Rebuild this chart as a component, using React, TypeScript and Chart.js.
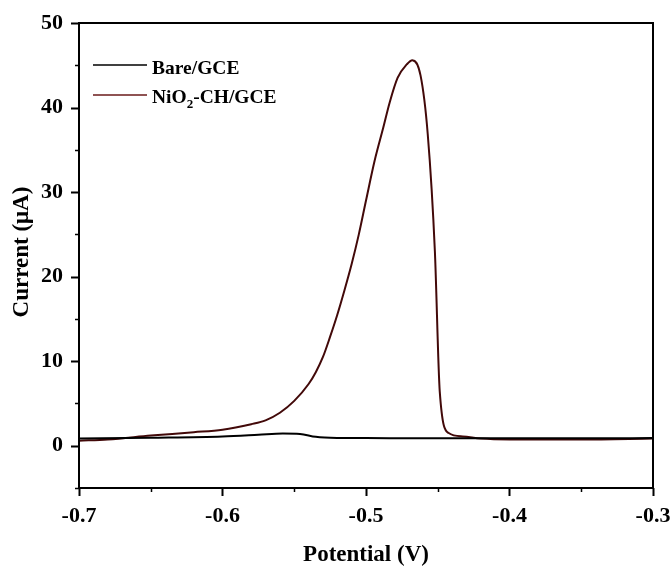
import React, { useEffect, useRef } from "react";
import { Chart, registerables } from "chart.js";

Chart.register(...registerables);

// ---- data ----
const barePotential = [-0.7, -0.65, -0.6, -0.575, -0.558, -0.546, -0.535, -0.52, -0.5, -0.45, -0.4, -0.35, -0.3];
const bareCurrent = [0.85, 0.95, 1.1, 1.3, 1.45, 1.4, 1.05, 0.92, 0.9, 0.88, 0.88, 0.88, 0.9];

const niPotential = [
  -0.7, -0.68, -0.65, -0.62, -0.6, -0.58, -0.57, -0.56, -0.55, -0.54, -0.535, -0.53, -0.525, -0.52,
  -0.515, -0.51, -0.505, -0.5, -0.494, -0.488, -0.4835, -0.478, -0.4716, -0.4677, -0.462, -0.457,
  -0.452, -0.4486, -0.4424, -0.4326, -0.42, -0.4, -0.35, -0.3,
];
const niCurrent = [
  0.6, 0.75, 1.2, 1.6, 1.9, 2.55, 3.0, 3.9, 5.3, 7.3, 8.7, 10.5, 12.9, 15.5,
  18.4, 21.5, 25.0, 29.0, 33.7, 37.6, 40.6, 43.5, 45.1, 45.6, 43.8, 36.9,
  23.0, 6.4, 1.5, 1.1, 0.85, 0.75, 0.75, 0.85,
];

const seriesNames = ["Bare/GCE", "NiO2-CH/GCE"];
const xTicks = [-0.7, -0.6, -0.5, -0.4, -0.3];
const xMinorTicks = [-0.65, -0.55, -0.45, -0.35];
const yTicks = [0, 10, 20, 30, 40, 50];
const yMinorTicks = [-5, 5, 15, 25, 35, 45];
const xTitle = "Potential (V)";
const yTitle = "Current (\u03bcA)";

const FONT = "'Liberation Serif', 'Times New Roman', serif";
const BARE_COLOR = "#000000";
const NI_COLOR = "#420909";

const decorPlugin = {
  id: "decor",
  afterDraw(chart: any) {
    const { ctx, chartArea: a, scales } = chart;
    const xs = scales.x;
    const ys = scales.y;
    ctx.save();
    ctx.strokeStyle = "#000";
    ctx.lineWidth = 2;
    ctx.strokeRect(a.left, a.top, a.right - a.left, a.bottom - a.top);

    // ticks
    ctx.lineWidth = 2;
    ctx.beginPath();
    for (const v of yTicks) {
      const y = Math.round(ys.getPixelForValue(v)) + 0.5;
      ctx.moveTo(a.left - 8, y);
      ctx.lineTo(a.left, y);
    }
    for (const v of xTicks) {
      const x = Math.round(xs.getPixelForValue(v)) + 0.5;
      ctx.moveTo(x, a.bottom);
      ctx.lineTo(x, a.bottom + 8);
    }
    ctx.stroke();
    ctx.lineWidth = 1.5;
    ctx.beginPath();
    for (const v of yMinorTicks) {
      const y = Math.round(ys.getPixelForValue(v)) + 0.5;
      ctx.moveTo(a.left - 4, y);
      ctx.lineTo(a.left, y);
    }
    for (const v of xMinorTicks) {
      const x = Math.round(xs.getPixelForValue(v)) + 0.5;
      ctx.moveTo(x, a.bottom);
      ctx.lineTo(x, a.bottom + 4);
    }
    ctx.stroke();

    // axis titles
    ctx.fillStyle = "#000";
    ctx.font = `bold 23px ${FONT}`;
    ctx.textAlign = "center";
    ctx.textBaseline = "middle";
    ctx.fillText(xTitle, (a.left + a.right) / 2, 555);
    ctx.save();
    ctx.translate(22, 252);
    ctx.rotate(-Math.PI / 2);
    ctx.fillText(yTitle, 0, 0);
    ctx.restore();

    // legend
    ctx.textAlign = "left";
    ctx.textBaseline = "alphabetic";
    ctx.lineWidth = 1.5;
    ctx.strokeStyle = BARE_COLOR;
    ctx.beginPath();
    ctx.moveTo(93, 65);
    ctx.lineTo(147, 65);
    ctx.stroke();
    ctx.strokeStyle = "#6a1a1a";
    ctx.beginPath();
    ctx.moveTo(93, 95);
    ctx.lineTo(147, 95);
    ctx.stroke();

    ctx.font = `bold 19.5px ${FONT}`;
    ctx.fillText(seriesNames[0], 152, 74);
    let x = 152;
    const base = 103;
    ctx.fillText("NiO", x, base);
    x += ctx.measureText("NiO").width;
    ctx.font = `bold 13px ${FONT}`;
    ctx.fillText("2", x, base + 5);
    x += ctx.measureText("2").width;
    ctx.font = `bold 19.5px ${FONT}`;
    ctx.fillText("-CH/GCE", x, base);
    ctx.restore();
  },
};

export default function App() {
  const ref = useRef<HTMLCanvasElement | null>(null);
  useEffect(() => {
    if (!ref.current) return;
    const bare = barePotential.map((p, i) => ({ x: p, y: bareCurrent[i] }));
    const ni = niPotential.map((p, i) => ({ x: p, y: niCurrent[i] }));
    const tickFont = { family: FONT, size: 22, weight: "bold" as const };
    const chart = new Chart(ref.current, {
      type: "line",
      data: {
        datasets: [
          {
            label: seriesNames[0],
            data: bare,
            borderColor: BARE_COLOR,
            borderWidth: 2,
            pointRadius: 0,
            cubicInterpolationMode: "monotone",
            fill: false,
          },
          {
            label: seriesNames[1],
            data: ni,
            borderColor: NI_COLOR,
            borderWidth: 2,
            pointRadius: 0,
            cubicInterpolationMode: "monotone",
            fill: false,
          },
        ],
      },
      options: {
        responsive: false,
        animation: false,
        devicePixelRatio: 1,
        layout: { padding: { top: 23, right: 19, left: 0, bottom: 0 } },
        plugins: { legend: { display: false }, tooltip: { enabled: false } },
        scales: {
          x: {
            type: "linear",
            min: -0.7,
            max: -0.3,
            afterBuildTicks: (s: any) => {
              s.ticks = xTicks.map((v) => ({ value: v }));
            },
            afterFit: (s: any) => {
              s.height = 79;
              s.paddingLeft = 0;
              s.paddingRight = 0;
            },
            grid: { drawOnChartArea: false, drawTicks: true, tickLength: 8, color: "rgba(0,0,0,0)" },
            border: { display: false },
            ticks: {
              color: "#000",
              font: tickFont,
              padding: 7,
              maxRotation: 0,
              autoSkip: false,
              callback: (v: any) => Number(v).toFixed(1),
            },
          },
          y: {
            type: "linear",
            min: -5,
            max: 50,
            afterBuildTicks: (s: any) => {
              s.ticks = yTicks.map((v) => ({ value: v }));
            },
            afterFit: (s: any) => {
              s.width = 79;
              s.paddingTop = 0;
              s.paddingBottom = 0;
            },
            grid: { drawOnChartArea: false, drawTicks: true, tickLength: 8, color: "rgba(0,0,0,0)" },
            border: { display: false },
            ticks: {
              color: "#000",
              font: tickFont,
              padding: 8,
              autoSkip: false,
              callback: (v: any) => String(v),
            },
          },
        },
      },
      plugins: [decorPlugin],
    });
    return () => chart.destroy();
  }, []);
  return (
    <div style={{ position: "absolute", left: 0, top: 0, width: 672, height: 567, background: "#fff" }}>
      <canvas ref={ref} width={672} height={567} />
    </div>
  );
}
